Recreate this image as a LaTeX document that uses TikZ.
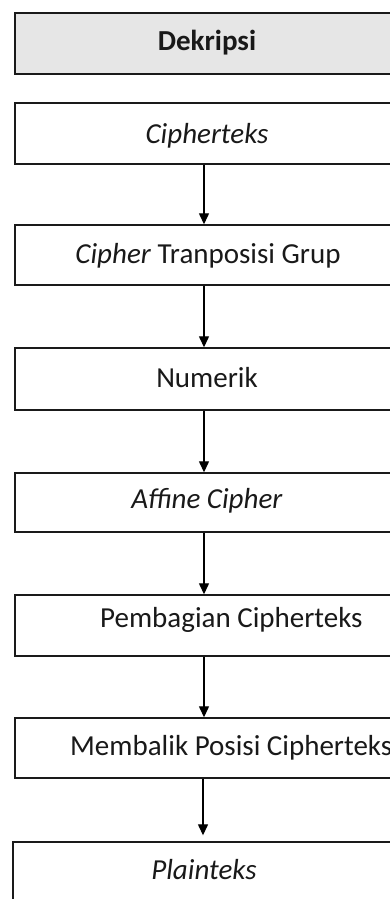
\documentclass[tikz,border=0pt]{standalone}
\usepackage{fontspec}
\setmainfont{Carlito}
\usetikzlibrary{arrows.meta}
\definecolor{headfill}{HTML}{E6E6E6}
\definecolor{edge}{HTML}{1A1A1A}
\tikzset{
  box/.style={draw=edge, line width=1.4pt, minimum width=378pt, inner sep=0pt, fill=white},
  lbl/.style={inner sep=0pt, font=\fontsize{29}{34}\selectfont, text=black!90},
  arr/.style={line width=1.3pt, draw=black, -{Triangle[length=11pt,width=10pt]}}
}
\begin{document}
\begin{tikzpicture}[x=1pt,y=-1pt]
\useasboundingbox (0,0) rectangle (390,899);
\clip (0,0) rectangle (390,899);
\fill[white] (0,0) rectangle (390,899);
% boxes
\node[box, fill=headfill, minimum height=61pt] (b1) at (204,43.5) {};
\node[box, minimum height=61pt] (b2) at (204,133.5) {};
\node[box, minimum height=60pt] (b3) at (204,255) {};
\node[box, minimum height=62pt] (b4) at (204,379) {};
\node[box, minimum height=59pt] (b5) at (204,502.5) {};
\node[box, minimum height=61pt] (b6) at (204,625.5) {};
\node[box, minimum height=60pt] (b7) at (204,748) {};
\node[box, minimum width=380pt, minimum height=64pt] (b8) at (203,874) {};
% labels
\node[lbl, anchor=base] (t1) at (207,51) {\textbf{Dekripsi}};
\node[lbl, anchor=base] (t2) at (207,143) {\textit{Cipherteks}};
\node[lbl, anchor=base] (t3) at (208,263) {\textit{Cipher} Tranposisi Grup};
\node[lbl, anchor=base] (t4) at (207,387) {Numerik};
\node[lbl, anchor=base] (t5) at (207,508) {\textit{Affine Cipher}};
\node[lbl, anchor=base west] (t6) at (100,627) {Pembagian Cipherteks};
\node[lbl, anchor=base west] (t7) at (70,755) {Membalik Posisi Cipherteks};
\node[lbl, anchor=base] (t8) at (204,879) {\textit{Plainteks}};
% arrows
\draw[arr] (b2.south) -- (b3.north);
\draw[arr] (b3.south) -- (b4.north);
\draw[arr] (b4.south) -- (b5.north);
\draw[arr] (b5.south) -- (b6.north);
\draw[arr] (b6.south) -- (b7.north);
\draw[arr, shorten >=6pt] (b7.south -| b8.north) -- (b8.north);
\end{tikzpicture}
\end{document}
